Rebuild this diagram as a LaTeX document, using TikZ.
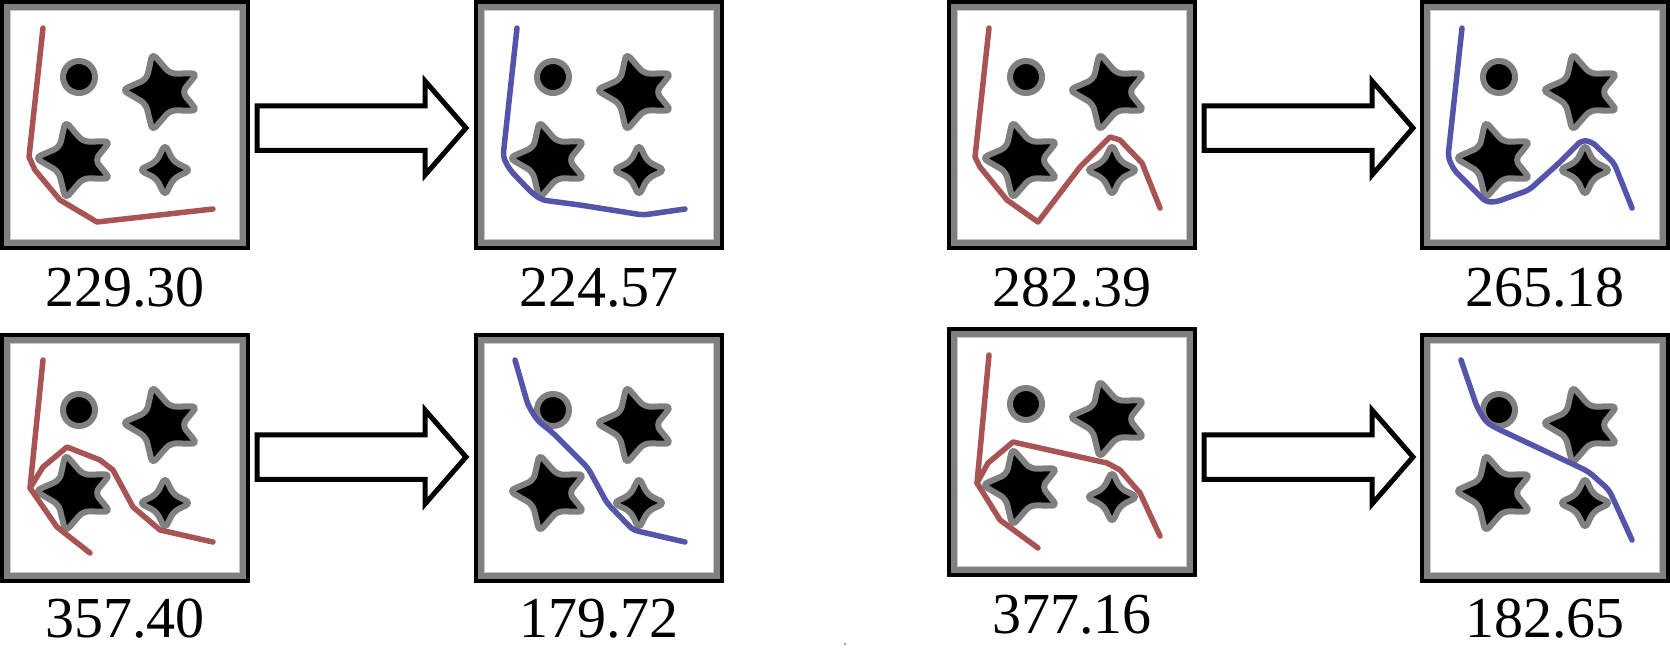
\documentclass[tikz,border=0pt]{standalone}
\usepackage{fontspec}
\setmainfont{Liberation Serif}
\newfontfamily\labelfont{Liberation Serif}
\definecolor{redc}{RGB}{168,84,84}
\definecolor{bluec}{RGB}{84,84,170}
\definecolor{ringgray}{RGB}{128,128,128}
\definecolor{framegray}{RGB}{128,128,128}
\definecolor{framelight}{RGB}{200,200,200}
\newcommand\myobstacles{%
  \filldraw[obst] (79,77) circle (16);
  \filldraw[obst, shift={(162,92)}] (0:20) -- (-28:40) -- (-66:20) -- (-104:40) -- (-140:20) -- (-177:40) -- (-216:20) -- (-256:40) -- (-294:20) -- (-332:40) -- cycle;
  \filldraw[obst, shift={(75,160)}] (0:20) -- (-28:40) -- (-66:20) -- (-104:40) -- (-140:20) -- (-177:40) -- (-216:20) -- (-256:40) -- (-294:20) -- (-332:40) -- cycle;
  \filldraw[obst, shift={(165,170)}] (45:12) -- (90:26) -- (135:12) -- (180:26) -- (225:12) -- (270:26) -- (315:12) -- (0:26) -- cycle;
}
\newcommand\mypanel[3]{% name, x, y
  \node[panelnode] (#1) at (#2,#3) {};
  \fill[black] (#1.north west) rectangle (#1.south east);
  \fill[framegray] ([shift={(4,4)}]#1.north west) rectangle ([shift={(-4,-4)}]#1.south east);
  \fill[framelight] ([shift={(10,10)}]#1.north west) rectangle ([shift={(-10,-10)}]#1.south east);
  \fill[white] ([shift={(11,11)}]#1.north west) rectangle ([shift={(-11,-11)}]#1.south east);
  \begin{scope}[shift={(#1.north west)}]
    \myobstacles
  \end{scope}
}
\newcommand\myarrow[2]{% x start, y center
  \draw[blockarrow, shift={(#1,#2)}] (0,-22.25) -- (168,-22.25) -- (168,-47) -- (209,0) -- (168,47) -- (168,22.25) -- (0,22.25) -- cycle;
}
\begin{document}
\begin{tikzpicture}[x=1pt,y=-1pt,
  panelnode/.style={rectangle, anchor=north west, minimum width=250pt, minimum height=250pt, inner sep=0pt, outer sep=0pt},
  obst/.style={fill=black, draw=ringgray, line width=6pt, rounded corners=6pt},
  rcurve/.style={draw=redc, line width=5.5pt, line join=round, line cap=round},
  bcurve/.style={draw=bluec, line width=5.5pt, line join=round, line cap=round, rounded corners=5pt},
  blockarrow/.style={draw=black, fill=white, line width=5pt, miter limit=10},
  lbl/.style={font=\labelfont\fontsize{58}{60}\selectfont, anchor=base, inner sep=0pt}]
\useasboundingbox (0,0) rectangle (1670,657);

\mypanel{p1}{0}{0}
\mypanel{p2}{474}{0}
\mypanel{p3}{947}{0}
\mypanel{p4}{1420}{0}
\mypanel{p5}{0}{333}
\mypanel{p6}{474}{333}
\mypanel{p7}{947}{327}
\mypanel{p8}{1420}{333}

% curves
\begin{scope}[shift={(p1.north west)}]
  \draw[rcurve] (43,28) -- (29,157) -- (35,170) -- (60,200) -- (97,222) -- (213,209);
\end{scope}
\begin{scope}[shift={(p2.north west)}]
  \draw[bcurve] (43,28) -- (29,157) -- (36,170) -- (58,193) -- (68,200) -- (106,205) -- (169,215) -- (211,209);
\end{scope}
\begin{scope}[shift={(p3.north west)}]
  \draw[rcurve] (42,28) -- (28,157) -- (33,167) -- (60,200) -- (91,222) -- (133,167) -- (163,137) -- (173,140) -- (195,163) -- (213,208);
\end{scope}
\begin{scope}[shift={(p4.north west)}]
  \draw[bcurve] (42,28) -- (28,157) -- (34,170) -- (66,202) -- (76,202) -- (109,190) -- (139,163) -- (162,140) -- (172,142) -- (194,163) -- (212,208);
\end{scope}
\begin{scope}[shift={(p5.north west)}]
  \draw[rcurve] (43,27) -- (30,155) -- (57,194) -- (90,220);
  \draw[rcurve] (30,155) -- (43,134) -- (67,114) -- (100,127) -- (113,137) -- (133,174) -- (160,197) -- (213,209);
\end{scope}
\begin{scope}[shift={(p6.north west)}]
  \draw[bcurve] (41,27) -- (54,72) -- (63,87) -- (79,100) -- (106,127) -- (114,135) -- (133,170) -- (159,197) -- (211,209);
\end{scope}
\begin{scope}[shift={(p7.north west)}]
  \draw[rcurve] (42,28) -- (30,156) -- (53,193) -- (91,221);
  \draw[rcurve] (30,156) -- (41,136) -- (66,115) -- (160,136) -- (173,143) -- (193,166) -- (213,209);
\end{scope}
\begin{scope}[shift={(p8.north west)}]
  \draw[bcurve] (41,27) -- (57,74) -- (66,89) -- (76,95) -- (159,134) -- (169,139) -- (189,157) -- (197,174) -- (212,207);
\end{scope}

% arrows
\myarrow{257}{128}
\myarrow{1204}{128}
\myarrow{257}{457}
\myarrow{1204}{457}

% labels
\node[lbl] (l1) at (125,306) {229.30};
\node[lbl] (l2) at (599,306) {224.57};
\node[lbl] (l3) at (1072,306) {282.39};
\node[lbl] (l4) at (1545,306) {265.18};
\node[lbl] (l5) at (125,637) {357.40};
\node[lbl] (l6) at (599,637) {179.72};
\node[lbl] (l7) at (1072,633) {377.16};
\node[lbl] (l8) at (1545,637) {182.65};

\fill[ringgray] (845,644) circle (1.2);
\end{tikzpicture}
\end{document}
